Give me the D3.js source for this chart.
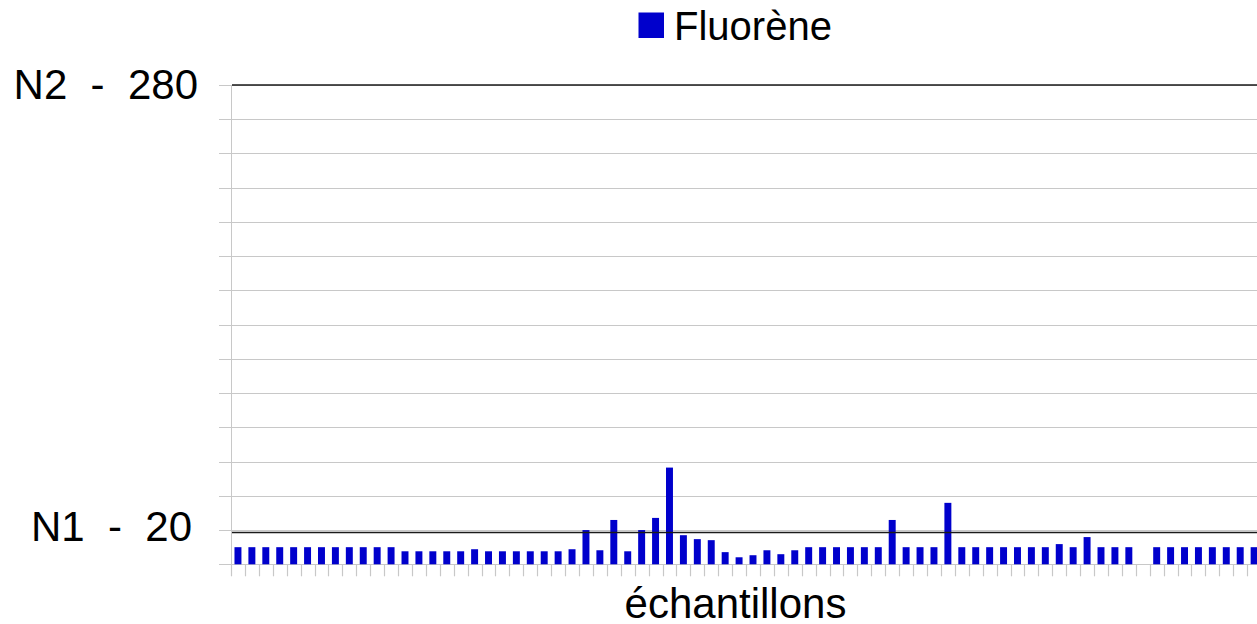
<!DOCTYPE html>
<html>
<head>
<meta charset="utf-8">
<script src="https://cdn.jsdelivr.net/npm/d3@7"></script>
<style>
html,body{margin:0;padding:0;background:#fff;overflow:hidden;}
text{font-family:"Liberation Sans",Arial,sans-serif;}
</style>
</head>
<body>
<svg id="chart" width="1257" height="624"></svg>
<script>
// ---- data ----
const seriesName = "Fluorène";
const axisTitle = "échantillons";
const values = [
  10,10,10,10,10,10,10,10,10,10,10,10,
  7.6,7.6,7.6,7.6,7.6,8.8,7.6,7.6,7.6,7.6,7.6,7.6,8.8,
  20,8.2,25.9,7.6,20,27.1,56.5,17,14.7,14.1,7.1,4.1,5.3,8.2,5.9,8.2,
  10,10,10,10,10,10,25.9,10,10,10,35.9,10,10,10,10,10,10,10,11.8,
  10,15.9,10,10,10,null,10,10,10,10,10,10,10,10
];
const categories = values.map((v, i) => "E" + (i + 1));
const yTicks = [0,20,40,60,80,100,120,140,160,180,200,220,240,260,280];
const tickLabels = {20: "N1  -  20", 280: "N2  -  280"};
const thresholds = [{name: "N1", value: 18.6}, {name: "N2", value: 280}];

(function () {
// ---- layout ----
const svg = d3.select("#chart");
const pLeft = 231, pBottom = 564.3, pTop = 85;
const step = 13.92;
const pRight = pLeft + step * categories.length;

const y = d3.scaleLinear().domain([0, 280]).range([pBottom, pTop]);
const x = d3.scaleBand().domain(categories).range([pLeft, pRight])
  .paddingInner(0.5).paddingOuter(0.25);

const gridColor = "#c8c8c8";

// gridlines
svg.append("g").selectAll("line").data(yTicks).join("line")
  .attr("x1", pLeft - 12).attr("x2", pRight)
  .attr("y1", d => Math.round(y(d)) + 0.5).attr("y2", d => Math.round(y(d)) + 0.5)
  .attr("stroke", gridColor).attr("stroke-width", 1);

// y axis line
svg.append("line")
  .attr("x1", pLeft + 0.5).attr("x2", pLeft + 0.5)
  .attr("y1", y(280)).attr("y2", y(0) + 1)
  .attr("stroke", gridColor);

// category ticks
const tickX = categories.map(c => x(c) - x.step() * 0.25).concat([pRight]);
svg.append("g").selectAll("line").data(tickX).join("line")
  .attr("x1", d => Math.round(d) + 0.5).attr("x2", d => Math.round(d) + 0.5)
  .attr("y1", y(0)).attr("y2", y(0) + 12)
  .attr("stroke", gridColor).attr("stroke-width", 1.2);

// bars
svg.append("g").selectAll("rect")
  .data(values.map((v, i) => ({c: categories[i], v})).filter(d => d.v != null))
  .join("rect")
  .attr("x", d => x(d.c)).attr("width", x.bandwidth())
  .attr("y", d => y(d.v)).attr("height", d => y(0) - y(d.v))
  .attr("fill", "#0000cc");

// threshold lines
svg.append("g").selectAll("line").data(thresholds).join("line")
  .attr("x1", pLeft + 1).attr("x2", pRight)
  .attr("y1", d => y(d.value)).attr("y2", d => y(d.value))
  .attr("stroke", "#1a1a1a").attr("stroke-width", 1.6);

// y labels
svg.append("g").selectAll("text").data(yTicks.filter(t => tickLabels[t])).join("text")
  .attr("x", d => d === 280 ? 198 : 192)
  .attr("y", d => y(d) + (d === 280 ? 13.5 : 11))
  .attr("text-anchor", "end")
  .style("white-space", "pre")
  .attr("font-size", 42).attr("fill", "#000")
  .text(d => tickLabels[d]);

// legend
svg.append("rect").attr("x", 638.5).attr("y", 12.5).attr("width", 25.5).attr("height", 25.5)
  .attr("fill", "#0000cc");
svg.append("text").attr("x", 674).attr("y", 40)
  .attr("font-size", 40).attr("fill", "#000").text(seriesName);

// x title
svg.append("text").attr("x", 735.5).attr("y", 618)
  .attr("text-anchor", "middle")
  .attr("font-size", 42).attr("fill", "#000").text(axisTitle);
})();
</script>
</body>
</html>
